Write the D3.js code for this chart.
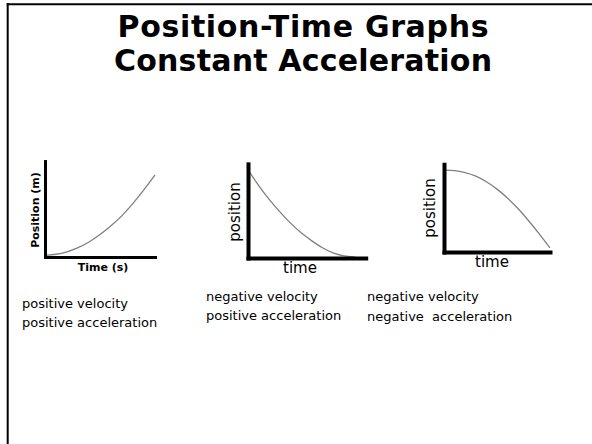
<!DOCTYPE html>
<html>
<head>
<meta charset="utf-8">
<script src="https://cdn.jsdelivr.net/npm/d3@7"></script>
<style>
  html, body { margin: 0; padding: 0; background: #fff; }
  svg { display: block; }
</style>
</head>
<body>
<div id="chart"></div>
<script>
const times = [0, 0.1, 0.2, 0.3, 0.4, 0.5, 0.6, 0.7, 0.8, 0.9, 1.0]
const posUpCurve = [0.02, 0.03, 0.06, 0.11, 0.18, 0.27, 0.38, 0.5, 0.65, 0.82, 1.0]
const posDownFlattening = [1.0, 0.82, 0.66, 0.52, 0.39, 0.28, 0.19, 0.11, 0.05, 0.02, 0.01]
const posDownSteepening = [1.0, 0.995, 0.97, 0.93, 0.86, 0.77, 0.66, 0.53, 0.38, 0.22, 0.05]

const titleLines = ['Position-Time Graphs', 'Constant Acceleration']
const xLabels = ['Time (s)', 'time', 'time']
const yLabels = ['Position (m)', 'position', 'position']
const captions = [
  ['positive velocity', 'positive acceleration'],
  ['negative velocity', 'positive acceleration'],
  ['negative velocity', 'negative  acceleration']
]

const series = [posUpCurve, posDownFlattening, posDownSteepening]

// layout of each little panel
const panels = [
  { x0: 45, x1: 155, tMax: 1.0, yBottom: 257, yTop: 175, pMax: 1.17, axisW: 3, bold: true, fs: 11,
    xl: [103, 271], yl: [39, 210], cap: [22, 308, 327] },
  { x0: 248, x1: 355, tMax: 1.1, yBottom: 258, yTop: 170, pMax: 1.07, axisW: 4, bold: false, fs: 15,
    xl: [300, 273], yl: [240, 212], cap: [206, 301, 320] },
  { x0: 444, x1: 550, tMax: 1.0, yBottom: 252, yTop: 170, pMax: 1.07, axisW: 4, bold: false, fs: 15,
    xl: [492, 267], yl: [435, 208], cap: [367, 301, 321] }
]
const titleWidths = [371, 378]

const font = '"DejaVu Sans", Verdana, sans-serif'

const svg = d3.select('#chart')
  .append('svg')
  .attr('width', 592)
  .attr('height', 444)

svg.append('rect').attr('width', 592).attr('height', 444).attr('fill', '#fff')

// slide frame: top and left only
svg.append('line')
  .attr('x1', 6.7).attr('x2', 592).attr('y1', 4.3).attr('y2', 4.3)
  .attr('stroke', '#000').attr('stroke-width', 2)
svg.append('line')
  .attr('x1', 7.7).attr('x2', 7.7).attr('y1', 3.3).attr('y2', 444)
  .attr('stroke', '#000').attr('stroke-width', 2)

svg.selectAll('.title')
  .data(titleLines)
  .enter()
  .append('text')
  .attr('class', 'title')
  .attr('x', 303)
  .attr('y', (d, i) => 36.5 + i * 34)
  .attr('text-anchor', 'middle')
  .attr('font-family', font)
  .attr('font-weight', 'bold')
  .attr('font-size', 30)
  .attr('fill', '#000')
  .attr('textLength', (d, i) => titleWidths[i])
  .attr('lengthAdjust', 'spacing')
  .text((d) => d)

panels.forEach((p, i) => {
  const x = d3.scaleLinear().domain([0, p.tMax]).range([p.x0, p.x0 + (p.x1 - p.x0) * p.tMax])
  const y = d3.scaleLinear().domain([0, p.pMax]).range([p.yBottom, p.yBottom - (p.yBottom - p.yTop) * p.pMax])

  const g = svg.append('g').attr('class', 'panel')

  const line = d3.line()
    .x((d) => x(d[0]))
    .y((d) => y(d[1]))
    .curve(d3.curveBasis)

  g.append('path')
    .datum(times.map((t, k) => [t, series[i][k]]))
    .attr('d', line)
    .attr('fill', 'none')
    .attr('stroke', '#808080')
    .attr('stroke-width', 1.3)

  const xAxis = g.append('g')
    .attr('transform', `translate(0, ${p.yBottom})`)
    .call(d3.axisBottom(x).tickValues([]).tickSizeOuter(0))
  const yAxis = g.append('g')
    .attr('transform', `translate(${p.x0}, 0)`)
    .call(d3.axisLeft(y).tickValues([]).tickSizeOuter(0))

  ;[xAxis, yAxis].forEach((a) => {
    a.select('.domain')
      .attr('stroke', '#000')
      .attr('stroke-width', p.axisW)
      .attr('stroke-linecap', 'square')
  })

  g.append('text')
    .attr('x', p.xl[0])
    .attr('y', p.xl[1])
    .attr('text-anchor', 'middle')
    .attr('font-family', font)
    .attr('font-weight', p.bold ? 'bold' : 'normal')
    .attr('font-size', p.fs)
    .text(xLabels[i])

  g.append('text')
    .attr('transform', `translate(${p.yl[0]}, ${p.yl[1]}) rotate(-90)`)
    .attr('text-anchor', 'middle')
    .attr('font-family', font)
    .attr('font-weight', p.bold ? 'bold' : 'normal')
    .attr('font-size', p.fs)
    .text(yLabels[i])

  g.selectAll('.caption')
    .data(captions[i])
    .enter()
    .append('text')
    .attr('class', 'caption')
    .attr('x', p.cap[0])
    .attr('y', (d, k) => p.cap[1 + k])
    .attr('font-family', font)
    .attr('font-size', 13)
    .style('white-space', 'pre')
    .text((d) => d)
})
</script>
</body>
</html>
